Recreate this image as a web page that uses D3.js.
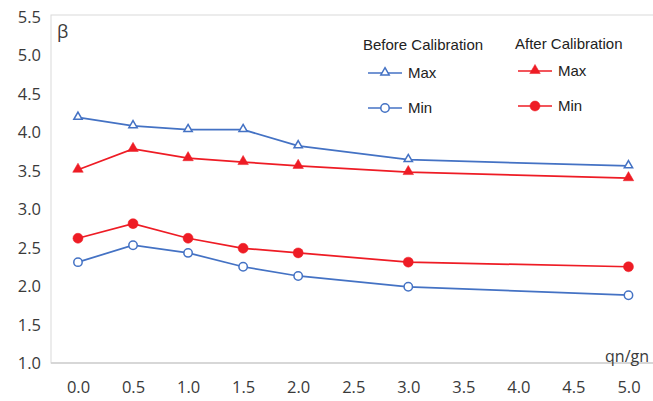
<!DOCTYPE html>
<meta charset="utf-8">
<style>
  body { margin: 0; background: #fff; }
  text { font-family: "Open Sans", "Liberation Sans", sans-serif; fill: #3a3a3a; }
  .leg text { font-family: "Liberation Sans", Arial, sans-serif; fill: #222; }
</style>
<svg width="653" height="401"></svg>
<script src="https://d3js.org/d3.v7.min.js"></script>
<script>
// data
var qn = [0, 0.5, 1.0, 1.5, 2.0, 3.0, 5.0];
var beforeMax = [4.19, 4.08, 4.03, 4.03, 3.82, 3.64, 3.56];
var beforeMin = [2.31, 2.53, 2.43, 2.25, 2.13, 1.99, 1.88];
var afterMax = [3.51, 3.78, 3.66, 3.61, 3.56, 3.48, 3.40];
var afterMin = [2.62, 2.81, 2.62, 2.49, 2.43, 2.31, 2.25];
var xTicks = [0, 0.5, 1, 1.5, 2, 2.5, 3, 3.5, 4, 4.5, 5];
var yTicks = [1, 1.5, 2, 2.5, 3, 3.5, 4, 4.5, 5, 5.5];

var svg = d3.select("svg");
var blue = "#4472c4", red = "#ee1c25";

var x = d3.scaleLinear().domain([-0.245, 5.25]).range([51, 656]);
var y = d3.scaleLinear().domain([1, 5.5]).range([363, 16.5]);

// plot frame
svg.append("rect")
    .attr("x", x(-0.245)).attr("y", y(5.5) - 1.5)
    .attr("width", 660).attr("height", y(1) - y(5.5) + 1.5)
    .attr("fill", "none").attr("stroke", "#d9d9d9");

// axes, labels only
var yAxis = svg.append("g")
    .attr("transform", "translate(41,0)")
    .call(d3.axisLeft(y).tickValues(yTicks).tickSize(0).tickFormat(d3.format(".1f")));
yAxis.select(".domain").remove();
yAxis.selectAll("text").attr("font-size", 16.5).attr("dy", "0.35em").attr("x", 0);

var xAxis = svg.append("g")
    .attr("transform", "translate(0,381)")
    .call(d3.axisBottom(x).tickValues(xTicks).tickSize(0).tickFormat(d3.format(".1f")));
xAxis.select(".domain").remove();
xAxis.selectAll("text").attr("font-size", 16.5).attr("dy", "0.71em").attr("y", 0);

svg.append("line")
    .attr("x1", x(-0.245)).attr("x2", 653)
    .attr("y1", y(1)).attr("y2", y(1))
    .attr("stroke", "#d0d0d0").attr("stroke-width", 1.5);

svg.append("text").attr("x", 57).attr("y", 38).attr("font-size", 18).text("β");
svg.append("text").attr("x", 649).attr("y", 362).attr("text-anchor", "end")
    .attr("font-size", 16).text("qn/gn");

var series = [
  {name: "Before Max", values: beforeMax, color: blue, shape: "tri", fill: false},
  {name: "After Max", values: afterMax, color: red, shape: "tri", fill: true},
  {name: "After Min", values: afterMin, color: red, shape: "circle", fill: true},
  {name: "Before Min", values: beforeMin, color: blue, shape: "circle", fill: false}
];

var line = d3.line()
    .x(function(d) { return x(d[0]); })
    .y(function(d) { return y(d[1]); });

function drawMarker(g, s, cx, cy) {
  if (s.shape == "tri") {
    g.append("path")
        .attr("d", d3.symbol(d3.symbolTriangle, s.fill ? 48 : 30)())
        .attr("transform", "translate(" + cx + "," + (cy - 0.5) + ")")
        .attr("fill", s.fill ? s.color : "#fff")
        .attr("stroke", s.color).attr("stroke-width", s.fill ? 0.5 : 1.5);
  } else {
    g.append("circle")
        .attr("cx", cx).attr("cy", cy).attr("r", s.fill ? 5 : 4.2)
        .attr("fill", s.fill ? s.color : "#fff")
        .attr("stroke", s.color).attr("stroke-width", s.fill ? 0.5 : 1.5);
  }
}

series.forEach(function(s) {
  var pts = qn.map(function(q, i) { return [q, s.values[i]]; });
  var g = svg.append("g");
  g.append("path").datum(pts)
      .attr("d", line).attr("fill", "none")
      .attr("stroke", s.color).attr("stroke-width", 1.75);
  pts.forEach(function(p) { drawMarker(g, s, x(p[0]), y(p[1])); });
});

// legend
var legend = svg.append("g").attr("class", "leg");
legend.append("text").attr("x", 363).attr("y", 50).attr("font-size", 15).text("Before Calibration");
legend.append("text").attr("x", 515).attr("y", 49).attr("font-size", 15).text("After Calibration");

var legItems = [
  {s: series[0], x: 368, y: 73, label: "Max"},
  {s: series[3], x: 368, y: 108, label: "Min"},
  {s: series[1], x: 518, y: 71, label: "Max"},
  {s: series[2], x: 518, y: 106, label: "Min"}
];
legItems.forEach(function(it) {
  legend.append("line")
      .attr("x1", it.x).attr("x2", it.x + 34)
      .attr("y1", it.y).attr("y2", it.y)
      .attr("stroke", it.s.color).attr("stroke-width", 1.5);
  drawMarker(legend, it.s, it.x + 17, it.y);
  legend.append("text").attr("x", it.x + 40).attr("y", it.y + 5)
      .attr("font-size", 15).text(it.label);
});
</script>
